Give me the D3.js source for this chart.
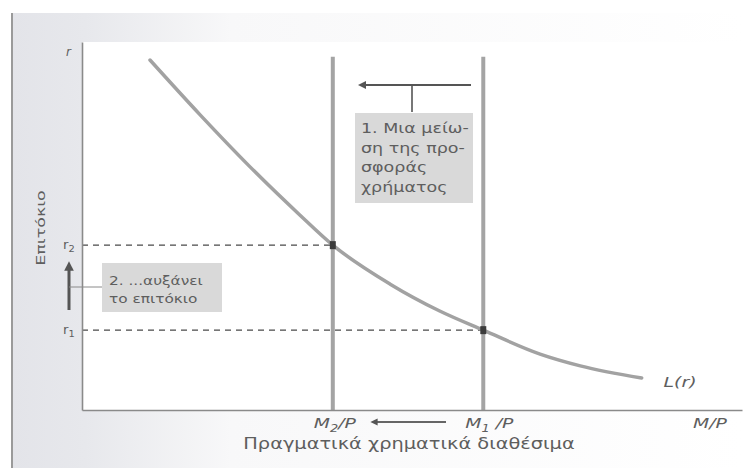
<!DOCTYPE html>
<html><head><meta charset="utf-8">
<script src="https://cdn.jsdelivr.net/npm/d3@7"></script>
<style>
html,body{margin:0;padding:0;background:#fff;}
svg{display:block;}
svg text{font-family:"DejaVu Sans",sans-serif;}
</style></head>
<body>
<svg id="c" width="743" height="468"></svg>
<script>
// Money demand curve L(r): real money balances (x) vs interest rate (y), abstract 0-100 units
const curveX = [10.3, 17.9, 25.5, 33.0, 38.0, 46.7, 54.2, 60.8, 69.4, 75.5, 84.8];
const curveY = [95.1, 80.2, 66.0, 53.0, 44.8, 34.2, 26.9, 21.7, 15.2, 12.0, 8.7];
// Supplies
const supplyLabels = ["M₂/P", "M₁/P"];
const supplyX = [38.0, 60.8];
const rateLabels = ["r₂", "r₁"];
const rateY = [44.8, 21.7];
const supplyTop = 96; // top of supply lines (units)
const box1Lines = ["1. Μια μείω-", "ση της προ-", "σφοράς", "χρήματος"];
const box2Lines = ["2. ...αυξάνει", "το επιτόκιο"];
const xTitle = "Πραγματικά χρηματικά διαθέσιμα";
const yTitle = "Επιτόκιο";

const svg = d3.select("#c");
const x = d3.scaleLinear().domain([0, 100]).range([82, 742]);
const y = d3.scaleLinear().domain([0, 100]).range([410, 42]);

const textCol = "#5e5e5e";

// helper: horizontally stretched text (the original uses a wide typeface)
function wtext(px, py, sx, opts = {}) {
  const g = svg.append("g").attr("transform", `translate(${px},${py}) ${opts.rot ? `rotate(${opts.rot})` : ""} scale(${sx},1)`);
  return g.append("text").attr("x", 0).attr("y", 0)
    .attr("fill", textCol)
    .attr("font-size", opts.size || 13)
    .attr("font-style", opts.italic ? "italic" : null)
    .attr("text-anchor", opts.anchor || "start");
}

// background gray strip
const defs = svg.append("defs");
const g1 = defs.append("linearGradient").attr("id","bg").attr("x1","0").attr("x2","1").attr("y1","0").attr("y2","0");
g1.append("stop").attr("offset","0").attr("stop-color","#e3e4e9");
g1.append("stop").attr("offset","0.1").attr("stop-color","#e7e8ec");
g1.append("stop").attr("offset","0.3").attr("stop-color","#f8f8f9");
g1.append("stop").attr("offset","1").attr("stop-color","#ffffff");
svg.append("rect").attr("x",12).attr("y",13).attr("width",731).attr("height",455).attr("fill","url(#bg)");
svg.append("rect").attr("x",x(0)).attr("y",y(100)).attr("width",743-x(0)).attr("height",y(0)-y(100)).attr("fill","#fff");
svg.append("line").attr("x1",12).attr("x2",12).attr("y1",13).attr("y2",468).attr("stroke","#9a9a9a").attr("stroke-width",2);

// dashed rate lines
svg.selectAll(".dash").data(rateY).join("line")
  .attr("x1",x(0)).attr("x2",(d,i)=>x(supplyX[i]))
  .attr("y1",d=>y(d)).attr("y2",d=>y(d))
  .attr("stroke","#4a4a4a").attr("stroke-width",1.4).attr("stroke-dasharray","6,5");

// supply lines
svg.selectAll(".sup").data(supplyX).join("line")
  .attr("x1",d=>x(d)).attr("x2",d=>x(d))
  .attr("y1",y(supplyTop)).attr("y2",y(0))
  .attr("stroke","#a4a4a4").attr("stroke-width",4);

// demand curve
const pts = curveX.map((v,i)=>[v,curveY[i]]);
svg.append("path").datum(pts)
  .attr("d", d3.line().x(d=>x(d[0])).y(d=>y(d[1])).curve(d3.curveMonotoneX))
  .attr("fill","none").attr("stroke","#a2a2a2").attr("stroke-width",3.5).attr("stroke-linecap","round");

// equilibrium dots
svg.selectAll(".eq").data(supplyX).join("rect")
  .attr("x",d=>x(d)-3).attr("y",(d,i)=>y(rateY[i])-4)
  .attr("width",6).attr("height",8).attr("fill","#3c3c3c");

// axes
const axX = d3.axisBottom(x).tickValues([]).tickSizeOuter(0);
const axY = d3.axisLeft(y).tickValues([]).tickSizeOuter(0);
svg.append("g").attr("transform",`translate(0,${y(0)})`).call(axX)
  .call(g=>g.select(".domain").attr("stroke","#8a8a8a").attr("stroke-width",1.6));
svg.append("g").attr("transform",`translate(${x(0)},0)`).call(axY)
  .call(g=>g.select(".domain").attr("stroke","#8a8a8a").attr("stroke-width",1.6));

// axis labels
wtext(66, y(100)+14, 1, {size:12, italic:true}).text("r");
rateLabels.forEach((d,i)=>{
  const t = wtext(63, y(rateY[i])+4, 1.1, {size:12});
  t.append("tspan").text("r");
  t.append("tspan").attr("font-size",9).attr("dy",3).text(i===0?"2":"1");
});
wtext(45, 228, 1.4, {size:12.5, anchor:"middle", rot:-90}).text(yTitle);

// x labels
supplyLabels.forEach((d,i)=>{
  const t = wtext(x(supplyX[i])+(i===0?2:6), 428, 1.3, {size:14.5, italic:true, anchor:"middle"});
  t.append("tspan").text("M");
  t.append("tspan").attr("font-size",10).attr("dy",4).text(i===0?"2":"1");
  t.append("tspan").attr("dy",-4).text(i===0?"/P":" /P");
});
wtext(710, 428, 1.3, {size:14.5, italic:true, anchor:"middle"}).text("M/P");
wtext(680, 387, 1.35, {size:14, italic:true, anchor:"middle"}).text("L(r)");
wtext(409, 449, 1.25, {size:15.5, anchor:"middle"}).text(xTitle);

// arrow markers
const mk = defs.append("marker").attr("id","ah").attr("viewBox","0 0 10 10").attr("refX",5).attr("refY",5)
  .attr("markerWidth",4).attr("markerHeight",4).attr("orient","auto-start-reverse");
mk.append("path").attr("d","M0,0L10,5L0,10Z").attr("fill","#555");
const mk2 = defs.append("marker").attr("id","ah2").attr("viewBox","0 0 10 10").attr("refX",5).attr("refY",5)
  .attr("markerWidth",3.2).attr("markerHeight",3.2).attr("orient","auto-start-reverse");
mk2.append("path").attr("d","M0,0L10,5L0,10Z").attr("fill","#555");

// bottom arrow M1 -> M2
svg.append("line").attr("x1",446).attr("x2",374).attr("y1",422).attr("y2",422)
  .attr("stroke","#666").attr("stroke-width",1.8).attr("marker-end","url(#ah)");

// box 1 annotation
svg.append("line").attr("x1",471).attr("x2",362).attr("y1",85).attr("y2",85)
  .attr("stroke","#555").attr("stroke-width",2).attr("marker-end","url(#ah)");
svg.append("line").attr("x1",412).attr("x2",412).attr("y1",85).attr("y2",112).attr("stroke","#555").attr("stroke-width",1.6);
svg.append("rect").attr("x",355).attr("y",113).attr("width",118).attr("height",90).attr("fill","#d9d9d9");
box1Lines.forEach((d,i)=>{ wtext(361, 133+i*19.7, 1.25, {size:14}).text(d); });

// box 2 annotation
svg.append("line").attr("x1",69).attr("x2",69).attr("y1",310).attr("y2",266)
  .attr("stroke","#555").attr("stroke-width",3).attr("marker-end","url(#ah2)");
svg.append("line").attr("x1",69).attr("x2",102).attr("y1",287).attr("y2",287).attr("stroke","#8a8a8a").attr("stroke-width",1);
svg.append("rect").attr("x",102).attr("y",263).attr("width",120).attr("height",49).attr("fill","#d9d9d9");
box2Lines.forEach((d,i)=>{ wtext(109, 285+i*18, 1.18, {size:13}).text(d); });
</script>
</body></html>
